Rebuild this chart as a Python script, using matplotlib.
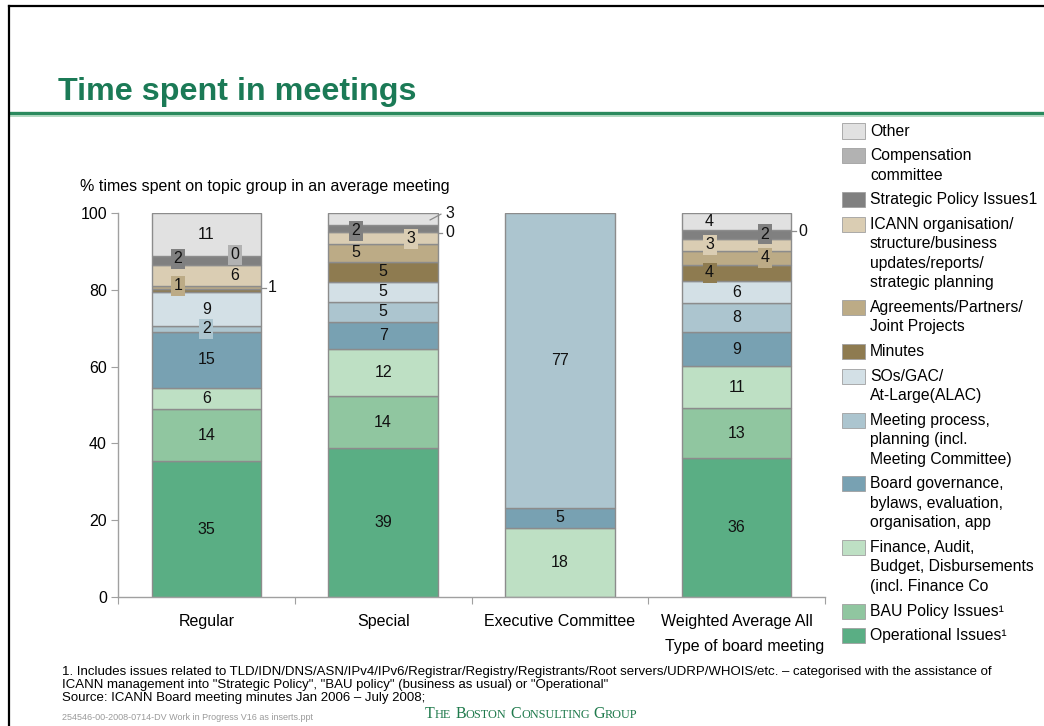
import numpy as np
import matplotlib
matplotlib.use("Agg")
import matplotlib.pyplot as plt
from matplotlib.patches import Rectangle
from matplotlib.lines import Line2D

plt.rcParams['font.family'] = ['Liberation Sans', 'DejaVu Sans']

W, H = 1044, 726
nan = np.nan

meeting_types = ["Regular", "Special", "Executive Committee", "Weighted Average All"]

# % of meeting time per topic group, bottom of the stack first (nan = not present)
operational = [35.3, 38.7, nan, 36.1]
bau_policy = [13.6, 13.6, nan, 13.0]
finance = [5.6, 12.2, 17.9, 11.1]
board_gov = [14.6, 7.2, 5.4, 8.7]
meeting_proc = [1.6, 5.2, 76.7, 7.6]
sos_gac = [8.6, 5.2, nan, 5.8]
minutes = [1.0, 5.2, nan, 4.2]
agreements = [0.6, 4.6, nan, 3.6]
icann_org = [5.6, 3.1, nan, 3.2]
strategic = [2.4, 2.0, nan, 2.3]
compensation = [0, 0, nan, 0]
other = [11.1, 3.0, nan, 4.4]

series = [operational, bau_policy, finance, board_gov, meeting_proc, sos_gac,
          minutes, agreements, icann_org, strategic, compensation, other]
keys = ["operational", "bau", "finance", "board", "meeting", "sos",
        "minutes", "agreements", "icann", "strategic", "compensation", "other"]
legend_labels = [
    "Operational Issues\u00b9",
    "BAU Policy Issues\u00b9",
    "Finance, Audit,\nBudget, Disbursements\n(incl. Finance Co",
    "Board governance,\nbylaws, evaluation,\norganisation, app",
    "Meeting process,\nplanning (incl.\nMeeting Committee)",
    "SOs/GAC/\nAt-Large(ALAC)",
    "Minutes",
    "Agreements/Partners/\nJoint Projects",
    "ICANN organisation/\nstructure/business\nupdates/reports/\nstrategic planning",
    "Strategic Policy Issues1",
    "Compensation\ncommittee",
    "Other",
]
colors = ["#5aae84", "#90c6a0", "#bee0c4", "#78a1b2", "#acc5cf", "#d3e0e6",
          "#8e7b50", "#bcab86", "#dacdb3", "#808080", "#b2b2b2", "#e1e1e1"]

# where the small segment labels sit (offsets in data units)
tweaks = {
    ("strategic", 0): dict(dx=-0.16, dy=0.4, box=True),
    ("compensation", 0): dict(dx=0.16, dy=0.2, box=True),
    ("icann", 0): dict(dx=0.16),
    ("agreements", 0): dict(dx=-0.16, dy=0.4, box=True),
    ("minutes", 0): dict(out=True, dy=0.7),
    ("meeting", 0): dict(box=True),
    ("other", 1): dict(out=True, dy=1.5, diag=True),
    ("strategic", 1): dict(dx=-0.155, dy=-0.6, box=True),
    ("icann", 1): dict(dx=0.157, dy=-0.2, box=True),
    ("agreements", 1): dict(dx=-0.155),
    ("compensation", 1): dict(out=True, dy=-2.1),
    ("other", 3): dict(dx=-0.153),
    ("strategic", 3): dict(dx=0.159, box=True),
    ("icann", 3): dict(dx=-0.153, box=True),
    ("agreements", 3): dict(dx=0.159, box=True),
    ("minutes", 3): dict(dx=-0.153, box=True),
    ("compensation", 3): dict(out=True, dy=-0.3),
}

FS = 11.5


def fx(px):
    return px / W


def fy(py):
    return 1 - py / H


fig = plt.figure(figsize=(W / 100, H / 100), dpi=100)
ax = fig.add_axes([fx(118), fy(597), fx(825) - fx(118), fy(213) - fy(597)])

x = np.arange(len(meeting_types))
bw = 0.62
bottom = np.zeros(len(meeting_types))
for key, vals, col in zip(keys, series, colors):
    vals = np.array(vals, dtype=float)
    for i, v in enumerate(vals):
        if np.isnan(v):
            continue
        if v > 0:
            ax.bar(x[i], v, bw, bottom=bottom[i], color=col,
                   edgecolor="#8c8c8c", linewidth=1.0, zorder=2)
        t = tweaks.get((key, i), {})
        yc = bottom[i] + v / 2 + t.get("dy", 0)
        txt = "%.0f" % v
        if t.get("out"):
            if t.get("diag"):
                ax.plot([x[i] + 0.266, x[i] + 0.327],
                        [bottom[i] + v / 2 - 0.3, yc - 0.3],
                        color="#8c8c8c", lw=0.9, zorder=3, clip_on=False)
            else:
                ax.plot([x[i] + bw / 2, x[i] + 0.335], [yc, yc],
                        color="#8c8c8c", lw=0.9, zorder=3, clip_on=False)
            ax.text(x[i] + 0.35, yc, txt, ha="left", va="center",
                    fontsize=FS, color="#111111", zorder=4, clip_on=False)
        else:
            bbox = None
            if t.get("box"):
                bbox = dict(boxstyle="square,pad=0.16", fc=col, ec="none")
            ax.text(x[i] + t.get("dx", 0), yc, txt, ha="center", va="center",
                    fontsize=FS, color="#111111", zorder=4, bbox=bbox)
        bottom[i] += v

ax.set_xlim(-0.5, 3.5)
ax.set_ylim(0, 100)
for s in ["top", "right"]:
    ax.spines[s].set_visible(False)
for s in ["left", "bottom"]:
    ax.spines[s].set_color("#a0a0a0")
    ax.spines[s].set_linewidth(1.0)
ax.set_yticks([0, 20, 40, 60, 80, 100])
ax.tick_params(axis="y", length=5, color="#a0a0a0", labelsize=FS, pad=3)
ax.set_xticks(np.arange(-0.5, 3.6, 1.0))
ax.set_xticklabels([])
ax.tick_params(axis="x", which="major", length=5, color="#a0a0a0")
ax.set_xticks(x, minor=True)
ax.set_xticklabels(meeting_types, minor=True)
ax.tick_params(axis="x", which="minor", length=0, labelsize=FS, pad=12)

fig.text(fx(824), fy(647), "Type of board meeting", ha="right", va="center",
         fontsize=FS)
fig.text(fx(80), fy(187), "% times spent on topic group in an average meeting",
         ha="left", va="center", fontsize=FS)

# title block and slide frame
fig.text(fx(58), fy(100), "Time spent in meetings", ha="left", va="baseline",
         fontsize=23.2, fontweight="bold", color="#1b7a56")
fig.add_artist(Line2D([fx(10), 1], [fy(113), fy(113)], color="#2a8a5e", lw=2.4))
fig.add_artist(Line2D([fx(10), 1], [fy(115.5), fy(115.5)], color="#a6d4b8", lw=1.2))
fig.add_artist(Line2D([fx(9), fx(9)], [fy(6), 0], color="black", lw=1.6))
fig.add_artist(Line2D([fx(9), 1], [fy(6), fy(6)], color="black", lw=1.6))

# legend, top entry first
line_h = 19.5
gap = 24.6
yy = 131
for lab, col in list(zip(legend_labels, colors))[::-1]:
    fig.add_artist(Rectangle((fx(842), fy(yy + 7.5)), fx(865) - fx(842), 15 / H,
                             facecolor=col, edgecolor="#a0a0a0", lw=0.6))
    lines = lab.split("\n")
    for k, ln in enumerate(lines):
        fig.text(fx(870), fy(yy + k * line_h), ln, ha="left", va="center",
                 fontsize=11.3)
    yy += (len(lines) - 1) * line_h + gap

# footnotes
fig.text(fx(62), fy(672), "1. Includes issues related to TLD/IDN/DNS/ASN/IPv4/IPv6/"
         "Registrar/Registry/Registrants/Root servers/UDRP/WHOIS/etc. \u2013 "
         "categorised with the assistance of", ha="left", va="center", fontsize=9.5)
fig.text(fx(62), fy(685), "ICANN management into \"Strategic Policy\", \"BAU policy\" "
         "(business as usual) or \"Operational\"", ha="left", va="center", fontsize=9.5)
fig.text(fx(62), fy(698), "Source: ICANN Board meeting minutes Jan 2006 \u2013 July 2008;",
         ha="left", va="center", fontsize=9.5)
fig.text(fx(62), fy(718), "254546-00-2008-0714-DV Work in Progress V16 as inserts.ppt",
         ha="left", va="center", fontsize=6.5, color="#9a9a9a")

# small-caps company name
renderer = fig.canvas.get_renderer()
cur = 425
for word in ["The", "Boston", "Consulting", "Group"]:
    for chunk, size in [(word[0], 11.5), (word[1:].upper(), 8.8)]:
        t = fig.text(fx(cur), fy(718), chunk, ha="left", va="baseline",
                     fontsize=size, family="Liberation Serif", color="#1f7a4c")
        cur += t.get_window_extent(renderer).width
    cur += 4

fig.savefig("out.png", dpi=100)
